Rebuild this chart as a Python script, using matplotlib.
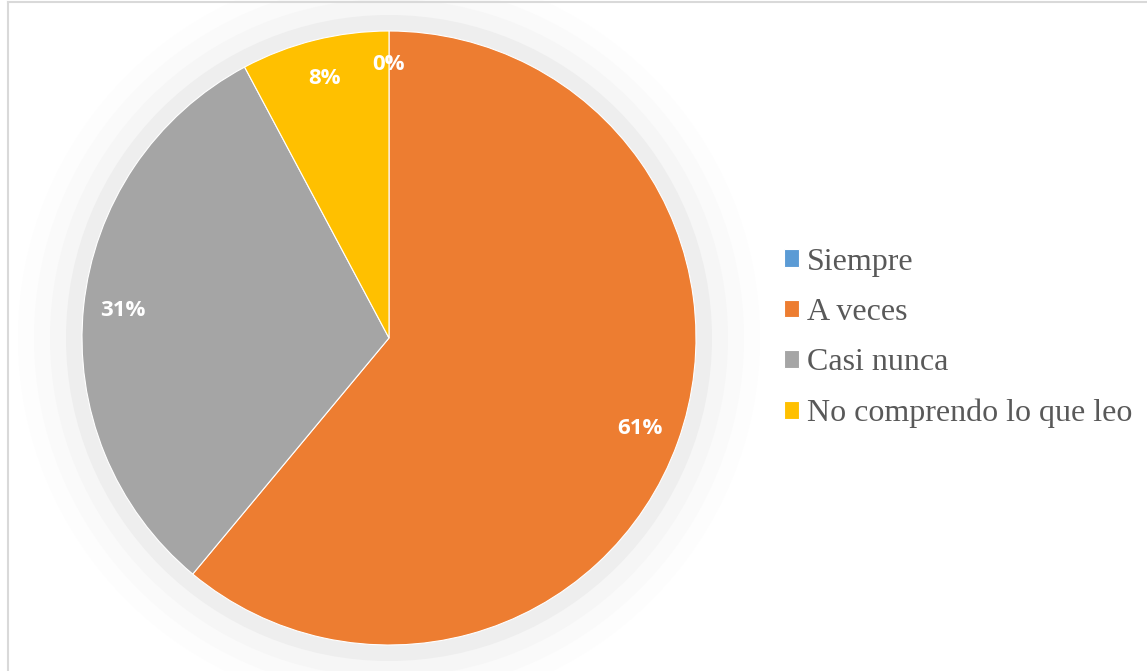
import matplotlib.pyplot as plt
from matplotlib.patches import Circle
from matplotlib.lines import Line2D

categories = ['Siempre', 'A veces', 'Casi nunca', 'No comprendo lo que leo']
counts = [0, 47, 24, 6]
colors = ['#5B9BD5', '#ED7D31', '#A5A5A5', '#FFC000']

W, H = 1147, 671
fig = plt.figure(figsize=(W / 100, H / 100), dpi=100)
fig.patch.set_facecolor('white')

# pie centre (389, 338) px, radius 307 px
cx, cy, r = 389, 338, 307
ax = fig.add_axes([(cx - r) / W, (H - cy - r) / H, 2 * r / W, 2 * r / H])
ax.set_xlim(-1, 1)
ax.set_ylim(-1, 1)
ax.set_aspect('equal')
ax.axis('off')

# soft shadow rings
for extra, shade in [(64, 0.993), (48, 0.98), (32, 0.963), (16, 0.935)]:
    ax.add_patch(Circle((0, 0), 1 + extra / r, facecolor=(shade, shade, shade),
                        edgecolor='none', clip_on=False, zorder=0))

wedges, texts, autotexts = ax.pie(
    counts, colors=colors, startangle=90, counterclock=False, radius=1,
    autopct=lambda p: f'{p:.0f}%', pctdistance=0.87,
    wedgeprops=dict(linewidth=0.8, edgecolor='white'),
    textprops=dict(color='white', fontsize=16, fontweight='bold', family='Open Sans'))
for w in wedges:
    w.set_zorder(2)
for t in autotexts:
    t.set_zorder(3)
autotexts[0].set_y(0.89)
ax.set_xlim(-1, 1)
ax.set_ylim(-1, 1)

leg = fig.legend(wedges, categories, loc='center left', bbox_to_anchor=(755 / W, 1 - 338 / H),
                 frameon=False, handlelength=0.47, handleheight=0.47, handletextpad=0.25,
                 labelspacing=0.67, prop=dict(family='Liberation Serif', size=23))
for t in leg.get_texts():
    t.set_color('#595959')

# chart border (left and top)
fig.add_artist(Line2D([8 / W, 8 / W], [0, 1 - 2 / H], color='#d9d9d9', lw=1.5))
fig.add_artist(Line2D([8 / W, 1], [1 - 2 / H, 1 - 2 / H], color='#d9d9d9', lw=1.5))

fig.savefig('out.png', dpi=100)
